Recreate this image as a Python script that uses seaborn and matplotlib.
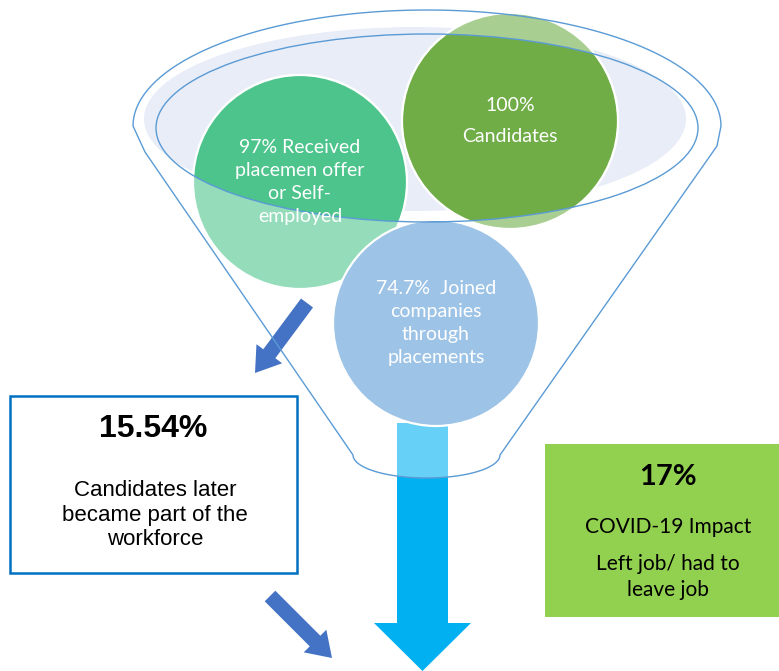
import numpy as np
import matplotlib
matplotlib.use('Agg')
import matplotlib.pyplot as plt
import matplotlib.patches as mpatches
from matplotlib.path import Path
from matplotlib.colors import to_rgb
import seaborn as sns

# funnel stages (circles)
stage_labels = ['100%\nCandidates',
                '97% Received\nplacemen offer\nor Self-\nemployed',
                '74.7%  Joined\ncompanies\nthrough\nplacements']
stage_pct = [100, 97, 74.7]
stage_colors = ['#70AD47', '#4CC48C', '#5B9BD5']

# side boxes
workforce_pct = '15.54%'
workforce_text = 'Candidates later\nbecame part of the\nworkforce'
covid_pct = '17%'
covid_title = 'COVID-19 Impact'
covid_text = 'Left job/ had to\nleave job'

sns.set_theme(style='white')

fig = plt.figure(figsize=(7.79, 6.71), dpi=100)
ax = fig.add_axes([0, 0, 1, 1])
ax.set_xlim(0, 779)
ax.set_ylim(671, 0)
ax.axis('off')

# layout (pixels)
circle_xy = [(510, 121), (300, 182), (436, 323)]
circle_r = [108, 107, 103]
line_col = '#5B9BD5'


def lighter(c, a=0.6):
    r = np.array(to_rgb(c))
    return tuple(r * a + (1 - a))


# funnel outline path
t = np.linspace(np.pi, 0, 80)
top_x = 427 + 294 * np.cos(t)
top_y = 126 - 116 * np.sin(t)
b = np.linspace(0, np.pi, 40)
bot_x = 426.5 + 73.5 * np.cos(b)
bot_y = 455 + 23 * np.sin(b)
fx = np.concatenate([top_x, [717, 500], bot_x, [353, 145]])
fy = np.concatenate([top_y, [146, 455], bot_y, [455, 152]])
funnel = mpatches.PathPatch(Path(np.vstack([np.column_stack([fx, fy]), [fx[0], fy[0]]])),
                            fill=False, edgecolor=line_col, lw=1.0, zorder=6)
ax.add_patch(funnel)

# light fill of the funnel mouth
ax.add_patch(mpatches.Ellipse((415, 119), 542, 184, facecolor='#E8EDF7',
                              edgecolor='none', zorder=0.5))
inner = mpatches.Ellipse((427, 128), 542, 188, fill=False, edgecolor=line_col,
                         lw=1.0, zorder=6)
ax.add_patch(inner)

# main vertical arrow
arrow_kw = dict(width=51, head_width=97, head_length=48,
                length_includes_head=True, edgecolor='none')
ax.add_patch(mpatches.FancyArrow(422.5, 423, 0, 248, facecolor='#00B0F0',
                                 zorder=1, **arrow_kw))
light_arrow = mpatches.FancyArrow(422.5, 423, 0, 248, facecolor=lighter('#00B0F0'),
                                  zorder=1.1, **arrow_kw)
ax.add_patch(light_arrow)
light_arrow.set_clip_path(funnel)

# circles: light outside the inner ellipse, full colour inside
for (cx, cy), r, col in zip(circle_xy, circle_r, stage_colors):
    ax.add_patch(mpatches.Circle((cx, cy), r, facecolor=lighter(col),
                                 edgecolor='white', lw=1.6, zorder=2))
    dark = mpatches.Circle((cx, cy), r, facecolor=col, edgecolor='white',
                           lw=1.6, zorder=2.1)
    ax.add_patch(dark)
    dark.set_clip_path(inner)

circ_font = ['Lato', 'DejaVu Sans']
ax.text(circle_xy[0][0], circle_xy[0][1], stage_labels[0], color='white',
        ha='center', va='center', fontsize=14, family=circ_font,
        linespacing=2.0, zorder=7)
for i in (1, 2):
    ax.text(circle_xy[i][0], circle_xy[i][1], stage_labels[i], color='white',
            ha='center', va='center', fontsize=14, family=circ_font,
            linespacing=1.45, zorder=7)

# small blue arrows
small_kw = dict(width=15, head_width=32, head_length=24,
                length_includes_head=True, facecolor='#4472C4', edgecolor='none',
                zorder=3)
ax.add_patch(mpatches.FancyArrow(307, 303, 255 - 307, 373 - 303, **small_kw))
ax.add_patch(mpatches.FancyArrow(270, 596, 332 - 270, 658 - 596, **small_kw))

# left box
ax.add_patch(mpatches.Rectangle((10, 396), 287, 177, facecolor='white',
                                edgecolor='#0070C0', lw=1.8, zorder=3))
ax.text(153, 429, workforce_pct, ha='center', va='center', fontsize=23,
        fontweight='bold', family=['Liberation Sans', 'DejaVu Sans'],
        color='black', zorder=4)
ax.text(155, 515, workforce_text, ha='center', va='center', fontsize=16,
        family=['Liberation Sans', 'DejaVu Sans'], color='black',
        linespacing=1.2, zorder=4)

# right green box
ax.add_patch(mpatches.Rectangle((545, 444), 240, 173, facecolor='#92D050',
                                edgecolor='none', zorder=3))
ax.text(668, 477, covid_pct, ha='center', va='center', fontsize=21,
        fontweight='bold', family=circ_font, color='black', zorder=4)
ax.text(668, 527, covid_title, ha='center', va='center', fontsize=15,
        family=circ_font, color='black', zorder=4)
ax.text(668, 577, covid_text, ha='center', va='center', fontsize=15,
        family=circ_font, color='black', linespacing=1.4, zorder=4)

fig.savefig('out.png', dpi=100)
